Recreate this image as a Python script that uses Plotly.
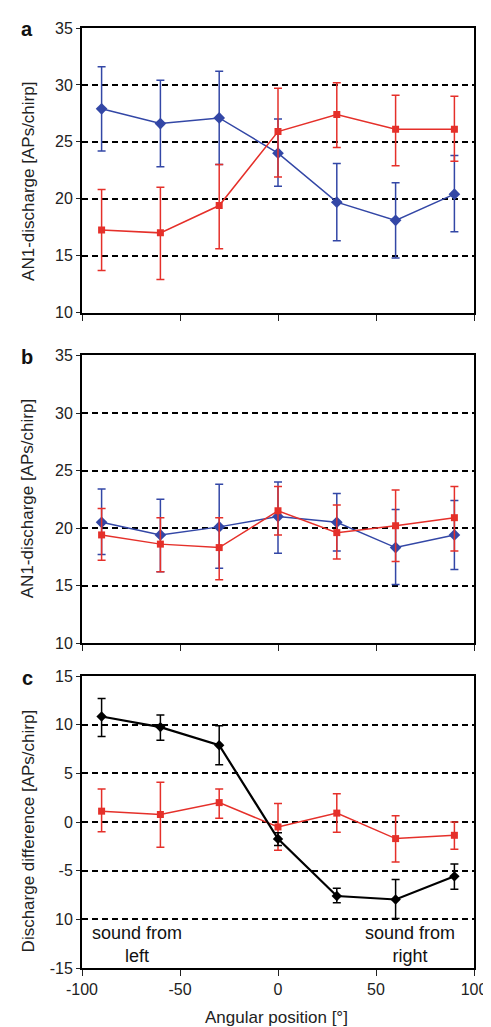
import plotly.graph_objects as go

angles = [-90, -60, -30, 0, 30, 60, 90]

# Panel a
a_blue = [27.9, 26.6, 27.1, 24.0, 19.7, 18.1, 20.4]
a_blue_hi = [31.6, 30.4, 31.2, 27.0, 23.1, 21.4, 23.8]
a_blue_lo = [24.2, 22.8, 23.0, 21.1, 16.3, 14.8, 17.1]
a_red = [17.25, 17.0, 19.4, 25.9, 27.4, 26.1, 26.1]
a_red_hi = [20.8, 21.0, 23.0, 29.7, 30.2, 29.1, 29.0]
a_red_lo = [13.7, 12.9, 15.6, 21.9, 24.5, 22.9, 23.3]

# Panel b
b_blue = [20.5, 19.4, 20.1, 21.0, 20.5, 18.3, 19.4]
b_blue_hi = [23.4, 22.5, 23.8, 24.0, 23.0, 21.6, 22.4]
b_blue_lo = [17.7, 16.2, 16.5, 17.8, 18.0, 15.1, 16.4]
b_red = [19.4, 18.6, 18.3, 21.5, 19.6, 20.2, 20.9]
b_red_hi = [21.7, 20.9, 20.9, 23.6, 22.0, 23.3, 23.6]
b_red_lo = [17.2, 16.2, 15.5, 19.4, 17.3, 17.1, 18.0]

# Panel c
c_black = [10.85, 9.76, 7.9, -1.73, -7.6, -7.96, -5.58]
c_black_hi = [12.7, 11.0, 9.9, -1.1, -6.8, -5.9, -4.3]
c_black_lo = [8.8, 8.4, 5.9, -2.4, -8.3, -9.9, -6.9]
c_red = [1.12, 0.78, 2.0, -0.5, 0.92, -1.7, -1.36]
c_red_hi = [3.4, 4.1, 3.4, 1.9, 2.9, 0.65, 0.0]
c_red_lo = [-1.0, -2.6, 0.4, -2.9, -1.05, -4.1, -2.8]

ab_ticks = [10, 15, 20, 25, 30, 35]
c_ticks = [-15, -10, -5, 0, 5, 10, 15]
c_ticktext = ["-15", "10", "-5", "0", "5", "10", "15"]
x_ticks = [-100, -50, 0, 50, 100]
x_ticktext = ["-100", "-50", "0", "50", "100"]

BLUE = "#3347a6"
RED = "#e5302a"
BLACK = "#000000"
FONT = "Liberation Sans, Arial, sans-serif"

fig = go.Figure()


def add(y, hi, lo, color, symbol, size, xa, ya, lw=1.5):
    fig.add_trace(go.Scatter(
        x=angles, y=y, mode="lines+markers",
        line=dict(color=color, width=lw),
        marker=dict(color=color, symbol=symbol, size=size),
        error_y=dict(type="data", symmetric=False,
                     array=[h - v for h, v in zip(hi, y)],
                     arrayminus=[v - l for v, l in zip(y, lo)],
                     color=color, thickness=1.5, width=4),
        xaxis=xa, yaxis=ya, showlegend=False,
    ))


add(a_blue, a_blue_hi, a_blue_lo, BLUE, "diamond", 9, "x", "y")
add(a_red, a_red_hi, a_red_lo, RED, "square", 7, "x", "y")
add(b_blue, b_blue_hi, b_blue_lo, BLUE, "diamond", 9, "x2", "y2")
add(b_red, b_red_hi, b_red_lo, RED, "square", 7, "x2", "y2")
add(c_red, c_red_hi, c_red_lo, RED, "square", 7, "x3", "y3")
add(c_black, c_black_hi, c_black_lo, BLACK, "diamond", 8, "x3", "y3", lw=2.2)

xcommon = dict(range=[-100, 100], tickvals=x_ticks, ticktext=x_ticktext,
               ticks="outside", ticklen=6,
               tickwidth=1.2, tickcolor="#222", showline=True, linewidth=2,
               linecolor="black", mirror=True, showgrid=False, zeroline=False,
               tickfont=dict(family=FONT, size=16, color="#222"))
ycommon = dict(ticks="outside", ticklen=4, tickwidth=1.2, tickcolor="#222",
               showline=True, linewidth=2, linecolor="black", mirror=True,
               showgrid=True, gridcolor="black", gridwidth=1.5, griddash="6px,4px",
               zeroline=False, tickfont=dict(family=FONT, size=16, color="#222"))

dom_a = [0.6973, 1.0]
dom_b = [0.3457, 0.6516]
dom_c = [0.0, 0.3105]

fig.update_layout(
    width=491, height=1027,
    margin=dict(l=74, r=16, t=12, b=67),
    plot_bgcolor="white", paper_bgcolor="white",
    font=dict(family=FONT, color="#222"),
    xaxis=dict(xcommon, anchor="y", showticklabels=False),
    yaxis=dict(ycommon, domain=dom_a, range=[10, 35], tickvals=ab_ticks, anchor="x"),
    xaxis2=dict(xcommon, anchor="y2", showticklabels=False),
    yaxis2=dict(ycommon, domain=dom_b, range=[10, 35], tickvals=ab_ticks, anchor="x2"),
    xaxis3=dict(xcommon, anchor="y3", showticklabels=True),
    yaxis3=dict(ycommon, domain=dom_c, range=[-15, 15], tickvals=c_ticks,
                ticktext=c_ticktext, anchor="x3"),
)


def paper_y(px):
    return (960 - px) / 948


annots = []
# y axis titles
for text, ycen in [("AN1-discharge [APs/chirp]", 167),
                   ("AN1-discharge [APs/chirp]", 487),
                   ("Discharge difference [APs/chirp]", 822)]:
    annots.append(dict(text=text, xref="paper", yref="paper",
                       x=(19 - 74) / 401, y=paper_y(ycen), textangle=-90,
                       showarrow=False, xanchor="center", yanchor="middle",
                       font=dict(family=FONT, size=17, color="#222")))
# x axis title
annots.append(dict(text="Angular position [°]", xref="paper", yref="paper",
                   x=(273 - 74) / 401, y=paper_y(1010), showarrow=False,
                   xanchor="center", yanchor="middle",
                   font=dict(family=FONT, size=17, color="#222")))
# panel letters
for letter, ycen in [("a", 13), ("b", 344), ("c", 668)]:
    annots.append(dict(text="<b>" + letter + "</b>", xref="paper", yref="paper",
                       x=(18 - 74) / 401, y=paper_y(ycen), showarrow=False,
                       xanchor="center", yanchor="middle",
                       font=dict(family=FONT, size=20, color="#111")))
# sound annotations
annots.append(dict(text="sound from<br>left", xref="x3", yref="y3", x=-72, y=-12.6,
                   showarrow=False, xanchor="center", yanchor="middle", align="center",
                   font=dict(family=FONT, size=18, color="#111")))
annots.append(dict(text="sound from<br>right", xref="x3", yref="y3", x=67.5, y=-12.6,
                   showarrow=False, xanchor="center", yanchor="middle", align="center",
                   font=dict(family=FONT, size=18, color="#111")))
fig.update_layout(annotations=annots)

fig.write_html("out.html")
